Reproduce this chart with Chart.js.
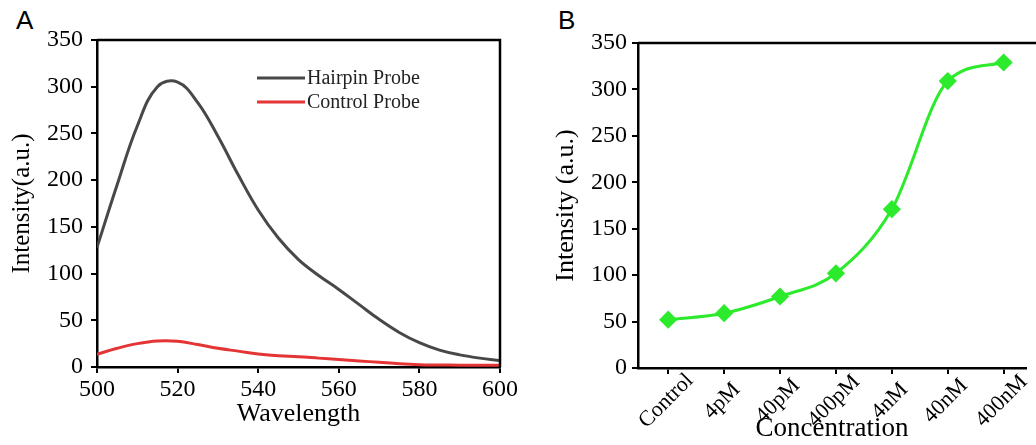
<!DOCTYPE html>
<html lang="en">
<head>
  <meta charset="UTF-8">
  <title>Hairpin probe fluorescence</title>
  <script src="https://cdn.jsdelivr.net/npm/chart.js"></script>
  <style>
    body { margin: 0; width: 1036px; height: 445px; overflow: hidden; background: #fff; position: relative; }
    .panel { position: absolute; top: 0; height: 445px; }
    .tag { position: absolute; font-family: "Liberation Sans", Arial, sans-serif; font-size: 26px; color: #000; }
  </style>
</head>
<body>
  <div class="tag" style="left: 16px; top: 5px;">A</div>
  <div class="tag" style="left: 558px; top: 5px;">B</div>
  <div class="panel" style="left: 0; width: 520px;"><canvas id="chartA"></canvas></div>
  <div class="panel" style="left: 520px; width: 516px;"><canvas id="chartB"></canvas></div>

  <script>
    // panel A: emission spectra
    const wavelength = [500, 505, 510, 515, 520, 525, 530, 535, 540, 545, 550, 555, 560, 565, 570, 575, 580, 585, 590, 595, 600];
    const hairpin = [128, 195, 258, 300, 305, 283, 247, 206, 168, 138, 115, 98, 83, 67, 51, 37, 26, 18, 13, 9.5, 7];
    const controlProbe = [13.6, 20, 25, 27.8, 27.5, 24, 20, 17, 14, 12, 11, 9.5, 8, 6.5, 5, 3.5, 2.5, 2.2, 2, 2, 2];

    // panel B: intensity vs concentration
    const concentrations = ['Control', '4pM', '40pM', '400pM', '4nM', '40nM', '400nM'];
    const intensity = [52, 59, 77, 102, 171, 309, 329];

    const serif = '"Liberation Serif", "Times New Roman", serif';

    // box lines round the plot area
    const frame = {
      id: 'frame',
      afterDraw(chart, args, opts) {
        const { ctx, chartArea: a } = chart;
        ctx.save();
        ctx.strokeStyle = '#000';
        ctx.lineWidth = 2.5;
        ctx.beginPath();
        ctx.moveTo(a.left, a.top);
        ctx.lineTo(opts.right ? a.right : chart.width, a.top);
        if (opts.right) ctx.lineTo(a.right, a.bottom);
        ctx.stroke();
        ctx.restore();
      }
    };

    // legend drawn inside the plot
    const insideLegend = {
      id: 'insideLegend',
      afterDraw(chart) {
        const ctx = chart.ctx;
        ctx.save();
        ctx.font = '20px ' + serif;
        ctx.textBaseline = 'middle';
        chart.data.datasets.forEach((ds, i) => {
          const y = 78 + i * 24;
          ctx.strokeStyle = ds.borderColor;
          ctx.lineWidth = 3;
          ctx.beginPath();
          ctx.moveTo(257, y);
          ctx.lineTo(305, y);
          ctx.stroke();
          ctx.fillStyle = '#222';
          ctx.fillText(ds.label, 307, y + 1);
        });
        ctx.restore();
      }
    };

    // rotated category labels centred under their ticks
    const slantLabels = {
      id: 'slantLabels',
      afterDraw(chart) {
        const ctx = chart.ctx;
        const sx = chart.scales.x;
        ctx.save();
        ctx.font = '22px ' + serif;
        ctx.fillStyle = '#000';
        ctx.textAlign = 'center';
        ctx.textBaseline = 'middle';
        concentrations.forEach((c, i) => {
          ctx.save();
          ctx.translate(sx.getPixelForValue(i) - 2, sx.top + 33);
          ctx.rotate(-Math.PI / 4);
          ctx.fillText(c, 0, 0);
          ctx.restore();
        });
        ctx.restore();
      }
    };

    function axisGrid() {
      return { display: true, drawOnChartArea: false, drawTicks: true, tickLength: 6, color: '#000', lineWidth: 2 };
    }

    new Chart(document.getElementById('chartA'), {
      type: 'line',
      data: {
        datasets: [
          {
            label: 'Hairpin Probe',
            data: wavelength.map((w, i) => ({ x: w, y: hairpin[i] })),
            borderColor: 'rgb(72, 72, 72)',
            borderWidth: 3,
            pointRadius: 0,
            tension: 0.4
          },
          {
            label: 'Control Probe',
            data: wavelength.map((w, i) => ({ x: w, y: controlProbe[i] })),
            borderColor: 'rgb(228, 52, 52)',
            borderWidth: 3,
            pointRadius: 0,
            tension: 0.4
          }
        ]
      },
      options: {
        responsive: true,
        maintainAspectRatio: false,
        animation: false,
        layout: { padding: { top: 40, right: 20, left: 0, bottom: 0 } },
        plugins: { legend: { display: false }, tooltip: { enabled: false }, frame: { right: true } },
        scales: {
          x: {
            type: 'linear',
            min: 500,
            max: 600,
            ticks: { stepSize: 20, color: '#000', font: { family: serif, size: 24 }, padding: 2 },
            grid: axisGrid(),
            border: { display: true, color: '#000', width: 2.5 },
            title: { display: true, text: 'Wavelength', color: '#000', font: { family: serif, size: 26 }, padding: { top: 0, bottom: 15 } },
            afterFit: s => { s.height = 78; s.paddingLeft = 0; s.paddingRight = 0; }
          },
          y: {
            min: 0,
            max: 350,
            ticks: { stepSize: 50, color: '#000', font: { family: serif, size: 24 }, padding: 8 },
            grid: axisGrid(),
            border: { display: true, color: '#000', width: 2.5 },
            title: { display: true, text: 'Intensity(a.u.)', color: '#000', font: { family: serif, size: 25 }, padding: { top: 7, bottom: 0 } },
            afterFit: s => { s.width = 97; s.paddingTop = 0; s.paddingBottom = 0; }
          }
        }
      },
      plugins: [frame, insideLegend]
    });

    new Chart(document.getElementById('chartB'), {
      type: 'line',
      data: {
        datasets: [{
          label: 'Intensity',
          data: intensity.map((v, i) => ({ x: i, y: v })),
          borderColor: 'rgb(44, 234, 44)',
          backgroundColor: 'rgb(44, 234, 44)',
          borderWidth: 3,
          pointStyle: 'rectRot',
          pointRadius: 7,
          cubicInterpolationMode: 'monotone'
        }]
      },
      options: {
        responsive: true,
        maintainAspectRatio: false,
        animation: false,
        layout: { padding: { top: 43, right: 0, left: 0, bottom: 0 } },
        plugins: { legend: { display: false }, tooltip: { enabled: false }, frame: { right: false } },
        scales: {
          x: {
            type: 'linear',
            min: -0.54,
            max: 6.4,
            afterBuildTicks: s => { s.ticks = concentrations.map((c, i) => ({ value: i })); },
            ticks: { display: false },
            grid: axisGrid(),
            border: { display: true, color: '#000', width: 2.5 },
            title: { display: true, text: 'Concentration', color: '#000', font: { family: serif, size: 27 }, padding: { top: 0, bottom: 0 } },
            afterFit: s => { s.height = 77; s.paddingLeft = 0; s.paddingRight = 0; }
          },
          y: {
            min: 0,
            max: 350,
            ticks: { stepSize: 50, color: '#000', font: { family: serif, size: 24 }, padding: 5 },
            grid: axisGrid(),
            border: { display: true, color: '#000', width: 2.5 },
            title: { display: true, text: 'Intensity (a.u.)', color: '#000', font: { family: serif, size: 26 }, padding: { top: 31, bottom: 0 } },
            afterFit: s => { s.width = 118; s.paddingTop = 0; s.paddingBottom = 0; }
          }
        }
      },
      plugins: [frame, slantLabels]
    });
  </script>
</body>
</html>
